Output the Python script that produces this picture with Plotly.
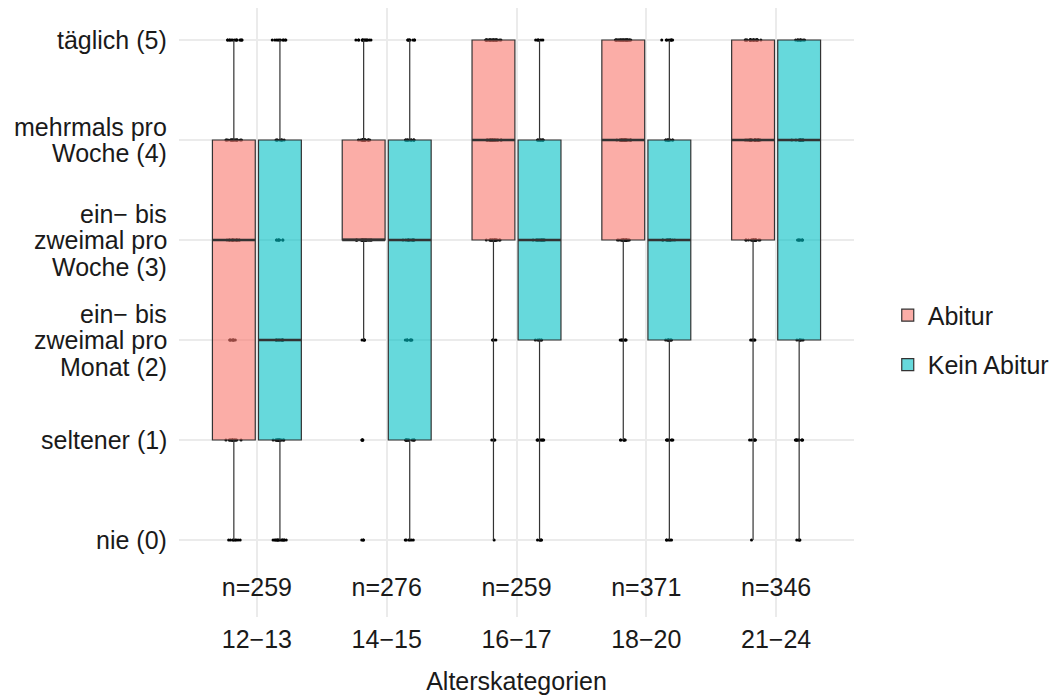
import plotly.graph_objects as go

# ---- data ----
ages = ["12−13", "14−15", "16−17", "18−20", "21−24"]
n_labels = ["n=259", "n=276", "n=259", "n=371", "n=346"]
levels = [0, 1, 2, 3, 4, 5]
level_labels = ["nie (0)", "seltener (1)", "ein− bis<br>zweimal pro<br>Monat (2)",
                "ein− bis<br>zweimal pro<br>Woche (3)", "mehrmals pro<br>Woche (4)", "täglich (5)"]

# box statistics per age category
abitur_q1 = [1, 3, 3, 3, 3]
abitur_med = [3, 3, 4, 4, 4]
abitur_q3 = [4, 4, 5, 5, 5]
abitur_lo = [0, 2, 0, 1, 0]
abitur_hi = [5, 5, 5, 5, 5]

kein_q1 = [1, 1, 2, 2, 2]
kein_med = [2, 3, 3, 3, 4]
kein_q3 = [4, 4, 4, 4, 5]
kein_lo = [0, 0, 0, 0, 0]
kein_hi = [5, 5, 5, 5, 5]

# visible answer counts per level 0..5 (jittered points)
abitur_counts = [
    [8, 14, 8, 16, 18, 14],
    [3, 5, 4, 22, 20, 14],
    [1, 4, 4, 18, 24, 26],
    [0, 6, 8, 20, 28, 28],
    [1, 6, 5, 18, 26, 24],
]
kein_counts = [
    [14, 16, 10, 8, 8, 10],
    [6, 12, 8, 12, 12, 8],
    [5, 8, 6, 14, 10, 6],
    [5, 8, 8, 14, 10, 8],
    [4, 10, 6, 8, 14, 10],
]

FONT = "Liberation Sans, Arial, Helvetica, sans-serif"
TXT = "#1a1a1a"
groups = [
    ("Abitur", "A", "rgba(248,118,109,0.6)", abitur_q1, abitur_med, abitur_q3, abitur_lo, abitur_hi, abitur_counts),
    ("Kein Abitur", "K", "rgba(0,191,196,0.6)", kein_q1, kein_med, kein_q3, kein_lo, kein_hi, kein_counts),
]

fig = go.Figure()

# jittered points (drawn first, below boxes)
for name, og, fill, q1, med, q3, lo, hi, counts in groups:
    xs, ys = [], []
    for age, cnt in zip(ages, counts):
        for lvl, c in zip(levels, cnt):
            xs += [age] * c
            ys += [lvl] * c
    fig.add_trace(go.Box(
        x=xs, y=ys, offsetgroup=og, boxpoints="all", jitter=0.38, pointpos=0,
        marker=dict(color="black", size=3), line=dict(width=0),
        fillcolor="rgba(0,0,0,0)", showlegend=False, hoverinfo="skip",
    ))

# boxes
for name, og, fill, q1, med, q3, lo, hi, counts in groups:
    fig.add_trace(go.Box(
        x=ages, q1=q1, median=med, q3=q3, lowerfence=lo, upperfence=hi,
        name=name, offsetgroup=og, legendgroup=name, boxpoints=False,
        fillcolor=fill, line=dict(color="#333333", width=1.2), whiskerwidth=0,
    ))
    # thicker median line
    fig.add_trace(go.Box(
        x=ages, q1=med, median=med, q3=med, lowerfence=med, upperfence=med,
        offsetgroup=og, boxpoints=False, fillcolor="rgba(0,0,0,0)",
        line=dict(color="#333333", width=2.4), whiskerwidth=0,
        showlegend=False, hoverinfo="skip",
    ))

# sample size labels
fig.add_trace(go.Scatter(
    x=ages, y=[-0.5] * len(ages), mode="text", text=n_labels,
    textfont=dict(size=25, color=TXT, family=FONT), showlegend=False, hoverinfo="skip",
))

# y tick labels, line by line
LINE = 26.5
for lvl, lab in zip(levels, level_labels):
    lines = lab.split("<br>")
    k = len(lines)
    for i, ln in enumerate(lines):
        fig.add_annotation(
            x=0, xref="paper", y=lvl, yref="y", text=ln, showarrow=False,
            xanchor="right", yanchor="middle", xshift=-10,
            yshift=((k - 1) / 2 - i) * LINE,
            font=dict(size=25, color=TXT, family=FONT),
        )

# page body has an 8px margin: the figure is sized to the remaining viewport
fig.update_layout(
    width=1049, height=687,
    margin=dict(l=171, r=203, t=0, b=78, autoexpand=False),
    paper_bgcolor="white", plot_bgcolor="white",
    boxmode="group", boxgap=0.29, boxgroupgap=0.07,
    font=dict(family=FONT, size=25, color=TXT),
    legend=dict(x=1.05, xanchor="left", y=0.455, yanchor="middle",
                font=dict(size=25, color=TXT), tracegroupgap=14),
    showlegend=True,
)
fig.update_xaxes(
    type="category", categoryorder="array", categoryarray=ages,
    showgrid=True, gridcolor="#EBEBEB", gridwidth=1.5, zeroline=False,
    ticks="", tickfont=dict(size=25, color=TXT), ticklabelstandoff=5,
    title=dict(text="Alterskategorien", font=dict(size=25, color=TXT), standoff=22),
    automargin=False, range=[-0.6, 4.6],
)
fig.update_yaxes(
    range=[-0.77, 5.32], tickvals=levels, showticklabels=False,
    showgrid=True, gridcolor="#EBEBEB", gridwidth=1.5, zeroline=False, ticks="",
    automargin=False,
)

fig.write_html("out.html")
